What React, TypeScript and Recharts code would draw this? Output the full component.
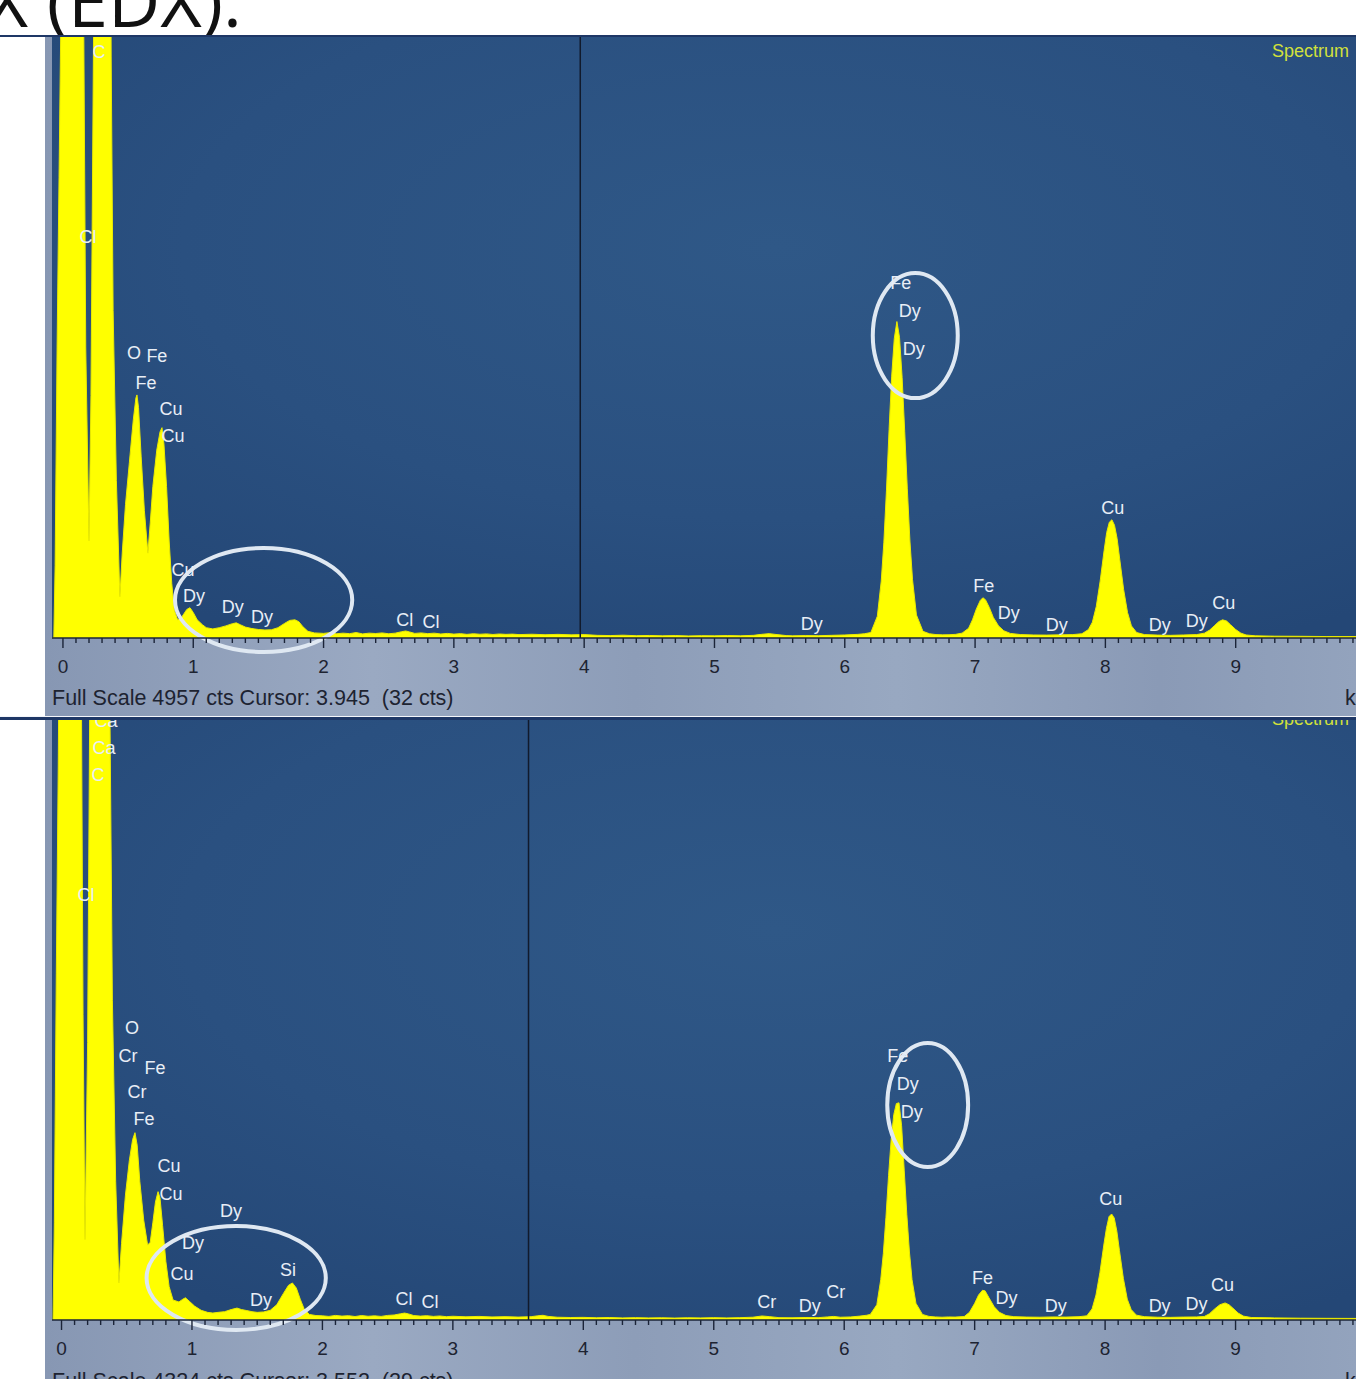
import React from 'react';
import {
  ComposedChart,
  Area,
  XAxis,
  YAxis,
  Scatter,
  ReferenceArea,
  ReferenceLine,
  CartesianGrid,
} from 'recharts';

// ---------- DATA ----------
// [energy keV, counts]
const topSpectrum: [number, number][] = [
  [-0.084, 0], [-0.07, 0], [-0.06, 600], [-0.045, 2400], [-0.03, 3800], [-0.015, 5200], [0.0, 9000],
  [0.15, 9000], [0.16, 5000], [0.175, 2400], [0.2, 800], [0.215, 2000], [0.235, 5000], [0.245, 9000],
  [0.355, 9000], [0.37, 4800], [0.385, 2700], [0.41, 1300], [0.437, 340], [0.455, 700], [0.48, 1100],
  [0.51, 1450], [0.54, 1800], [0.56, 1980], [0.568, 2005], [0.58, 1900], [0.6, 1500], [0.625, 1050],
  [0.652, 700], [0.67, 950], [0.69, 1250], [0.72, 1550], [0.745, 1700], [0.76, 1735], [0.775, 1600],
  [0.795, 1250], [0.815, 800], [0.835, 450], [0.855, 230], [0.88, 150], [0.91, 170], [0.95, 235],
  [0.975, 250], [1.0, 210], [1.03, 150], [1.07, 110], [1.1, 85], [1.15, 75], [1.2, 85], [1.25, 100],
  [1.3, 118], [1.33, 125], [1.36, 110], [1.4, 90], [1.45, 78], [1.5, 70], [1.55, 66], [1.6, 68],
  [1.65, 85], [1.7, 120], [1.74, 145], [1.78, 150], [1.81, 135], [1.84, 95], [1.88, 55], [1.93, 42],
  [2.0, 38], [2.05, 44], [2.1, 35], [2.15, 40], [2.2, 36], [2.25, 45], [2.3, 34], [2.35, 40], [2.4, 37],
  [2.45, 42], [2.5, 35], [2.55, 40], [2.6, 52], [2.63, 58], [2.66, 50], [2.7, 38], [2.75, 42], [2.8, 36],
  [2.85, 40], [2.9, 33], [2.95, 38], [3.0, 32], [3.05, 36], [3.1, 30], [3.15, 35], [3.2, 31], [3.25, 34],
  [3.3, 29], [3.35, 33], [3.4, 30], [3.45, 32], [3.5, 28], [3.6, 31], [3.7, 27], [3.8, 30], [3.9, 26],
  [4.0, 28], [4.1, 22], [4.2, 20], [4.3, 23], [4.4, 19], [4.5, 21], [4.6, 18], [4.7, 20], [4.8, 17],
  [4.9, 19], [5.0, 18], [5.1, 20], [5.2, 18], [5.3, 22], [5.36, 30], [5.42, 36], [5.48, 28], [5.55, 20],
  [5.6, 18], [5.7, 20], [5.8, 19], [5.9, 22], [6.0, 25], [6.1, 30], [6.15, 35], [6.2, 45],
  [6.25, 180], [6.28, 470], [6.3, 790], [6.32, 1220], [6.34, 1720], [6.36, 2160], [6.38, 2470],
  [6.4, 2610], [6.42, 2480], [6.44, 2150], [6.46, 1700], [6.48, 1230], [6.5, 800], [6.52, 480],
  [6.55, 190], [6.6, 55], [6.65, 35], [6.7, 28], [6.75, 26], [6.8, 27], [6.85, 30], [6.9, 40],
  [6.95, 80], [6.98, 150], [7.01, 240], [7.04, 310], [7.06, 332], [7.08, 315], [7.11, 250], [7.14, 170],
  [7.18, 100], [7.22, 60], [7.27, 38], [7.35, 28], [7.45, 25], [7.55, 24], [7.65, 26], [7.75, 28],
  [7.82, 35], [7.87, 70], [7.9, 130], [7.93, 260], [7.96, 470], [7.99, 720], [8.01, 870], [8.03, 955],
  [8.05, 975], [8.07, 930], [8.09, 820], [8.11, 650], [8.14, 400], [8.17, 210], [8.2, 100], [8.24, 45],
  [8.3, 28], [8.4, 24], [8.5, 22], [8.6, 25], [8.7, 28], [8.76, 40], [8.8, 65], [8.84, 105], [8.87, 135],
  [8.9, 150], [8.93, 140], [8.96, 110], [9.0, 70], [9.04, 40], [9.08, 25], [9.15, 18], [9.3, 15],
  [9.5, 14], [9.7, 12], [10.0, 12],
];

const bottomSpectrum: [number, number][] = [
  [-0.073, 0], [-0.065, 0], [-0.055, 700], [-0.04, 2500], [-0.025, 4000], [-0.01, 6000], [0.0, 9000],
  [0.14, 9000], [0.15, 5000], [0.165, 2200], [0.18, 580], [0.2, 2000], [0.22, 5000], [0.23, 9000],
  [0.355, 9000], [0.37, 4500], [0.39, 2300], [0.415, 1000], [0.44, 267], [0.46, 550], [0.49, 900],
  [0.52, 1150], [0.545, 1300], [0.563, 1350], [0.58, 1260], [0.6, 1000], [0.63, 720], [0.66, 540],
  [0.68, 560], [0.7, 700], [0.72, 850], [0.74, 925], [0.755, 880], [0.775, 680], [0.8, 420],
  [0.825, 240], [0.855, 144], [0.9, 130], [0.93, 150], [0.95, 160], [0.98, 135], [1.02, 100],
  [1.07, 70], [1.12, 55], [1.16, 50], [1.2, 55], [1.25, 60], [1.3, 75], [1.345, 86], [1.38, 75],
  [1.42, 68], [1.46, 60], [1.5, 55], [1.55, 58], [1.6, 70], [1.65, 110], [1.7, 190], [1.74, 250],
  [1.77, 267], [1.8, 230], [1.83, 150], [1.86, 80], [1.9, 40], [1.95, 32],
  [2.0, 30], [2.05, 26], [2.1, 33], [2.15, 28], [2.2, 31], [2.25, 25], [2.3, 32], [2.35, 27], [2.4, 30],
  [2.45, 26], [2.5, 33], [2.55, 36], [2.6, 45], [2.63, 50], [2.66, 44], [2.7, 32], [2.75, 28], [2.8, 31],
  [2.85, 26], [2.9, 29], [2.95, 24], [3.0, 27], [3.1, 23], [3.2, 26], [3.3, 22], [3.4, 24], [3.5, 21],
  [3.6, 24], [3.65, 30], [3.69, 34], [3.73, 26], [3.8, 20], [3.9, 18], [4.0, 19], [4.1, 16], [4.2, 18],
  [4.3, 15], [4.4, 17], [4.5, 15], [4.6, 16], [4.7, 14], [4.8, 16], [4.9, 15], [5.0, 17], [5.1, 15],
  [5.2, 17], [5.3, 20], [5.37, 29], [5.43, 24], [5.5, 17], [5.6, 16], [5.7, 18], [5.8, 17], [5.87, 22],
  [5.92, 26], [5.97, 20], [6.05, 22], [6.12, 28], [6.17, 34], [6.2, 40], [6.25, 110], [6.28, 290],
  [6.3, 480], [6.32, 740], [6.34, 1040], [6.36, 1300], [6.38, 1480], [6.4, 1560], [6.42, 1565],
  [6.44, 1400], [6.46, 1080], [6.48, 760], [6.5, 490], [6.52, 290], [6.55, 120], [6.6, 40], [6.65, 26],
  [6.7, 22], [6.75, 20], [6.8, 22], [6.85, 21], [6.92, 25], [6.96, 55], [7.0, 120], [7.03, 180],
  [7.06, 214], [7.08, 210], [7.11, 160], [7.15, 95], [7.19, 55], [7.24, 32], [7.3, 24], [7.4, 21],
  [7.5, 20], [7.6, 22], [7.7, 21], [7.8, 24], [7.86, 30], [7.9, 80], [7.93, 180], [7.96, 340],
  [7.99, 540], [8.01, 660], [8.03, 745], [8.05, 764], [8.07, 735], [8.09, 640], [8.11, 500], [8.14, 300],
  [8.17, 150], [8.2, 75], [8.24, 35], [8.3, 24], [8.4, 20], [8.5, 19], [8.6, 21], [8.7, 22], [8.76, 25],
  [8.8, 45], [8.84, 80], [8.88, 110], [8.92, 123], [8.95, 110], [8.98, 85], [9.02, 50], [9.06, 28],
  [9.12, 18], [9.3, 15], [9.5, 13], [9.7, 12], [10.0, 11],
];

// [energy keV, counts, element]
const topLabels: [number, number, string][] = [
  [0.276, 4833, 'C'], [0.192, 3307, 'Cl'], [0.545, 2351, 'O'], [0.721, 2326, 'Fe'],
  [0.637, 2103, 'Fe'], [0.829, 1889, 'Cu'], [0.844, 1666, 'Cu'], [0.921, 561, 'Cu'],
  [1.005, 346, 'Dy'], [1.304, 256, 'Dy'], [1.527, 173, 'Dy'], [2.624, 148, 'Cl'],
  [2.824, 132, 'Cl'], [5.747, 115, 'Dy'], [6.43, 2928, 'Fe'], [6.499, 2697, 'Dy'],
  [6.53, 2384, 'Dy'], [7.067, 429, 'Fe'], [7.259, 206, 'Dy'], [7.627, 107, 'Dy'],
  [8.057, 1072, 'Cu'], [8.417, 107, 'Dy'], [8.701, 140, 'Dy'], [8.908, 289, 'Cu'],
];

const bottomLabels: [number, number, string][] = [
  [0.341, 4317, 'Ca'], [0.326, 4122, 'Ca'], [0.28, 3928, 'C'], [0.188, 3063, 'Cl'],
  [0.54, 2104, 'O'], [0.51, 1903, 'Cr'], [0.716, 1816, 'Fe'], [0.579, 1643, 'Cr'],
  [0.632, 1449, 'Fe'], [0.824, 1110, 'Cu'], [0.839, 908, 'Cu'], [1.299, 786, 'Dy'],
  [1.008, 555, 'Dy'], [0.923, 332, 'Cu'], [1.736, 360, 'Si'], [1.529, 144, 'Dy'],
  [2.625, 151, 'Cl'], [2.824, 130, 'Cl'], [5.406, 130, 'Cr'], [5.736, 101, 'Dy'],
  [5.935, 202, 'Cr'], [6.41, 1903, 'Fe'], [6.487, 1701, 'Dy'], [6.518, 1499, 'Dy'],
  [7.061, 303, 'Fe'], [7.245, 159, 'Dy'], [7.621, 101, 'Dy'], [8.043, 872, 'Cu'],
  [8.418, 101, 'Dy'], [8.701, 115, 'Dy'], [8.9, 252, 'Cu'],
];

// highlight ellipses: [keV from, keV to, cts from, cts to]
const topHighlights: [number, number, number, number][] = [
  [0.86, 2.22, -115, 742],
  [6.215, 6.867, 1979, 3010],
];
const bottomHighlights: [number, number, number, number][] = [
  [0.652, 2.026, -72, 677],
  [6.33, 6.95, 1103, 1996],
];

const axisLabels = [0, 1, 2, 3, 4, 5, 6, 7, 8, 9, 10];

const topFullScale = 4957;
const bottomFullScale = 4324;
const topCursor = 3.97;
const bottomCursor = 3.58;
const topFooter = 'Full Scale 4957 cts Cursor: 3.945  (32 cts)';
const bottomFooter = 'Full Scale 4324 cts Cursor: 3.552  (29 cts)';

// ---------- RENDER ----------
const tickValues: number[] = [];
for (let i = 0; i <= 100; i++) tickValues.push(Math.round(i) / 10);

const SANS = '"Liberation Sans", Arial, sans-serif';

const AxisTick = (props: any) => {
  const { x, y, payload } = props;
  const v = payload.value as number;
  const major = axisLabels.includes(v);
  return (
    <g>
      <line x1={x} x2={x} y1={y} y2={y + (major ? 10 : 5)} stroke="#1b2438" strokeWidth={1.4} />
      {major && (
        <text x={x} y={y + 35} textAnchor="middle" fontSize={19} fontFamily={SANS} fill="#1d2331">
          {v}
        </text>
      )}
    </g>
  );
};

const LabelShape = (p: any) => (
  <text
    x={p.cx}
    y={p.cy}
    dominantBaseline="central"
    textAnchor="middle"
    fontSize={18}
    fontFamily={SANS}
    fill="#e8eef6"
  >
    {p.payload.text}
  </text>
);

const EllipseShape = (p: any) => {
  const w = Math.abs(p.width);
  const h = Math.abs(p.height);
  const x = Math.min(p.x, p.x + p.width);
  const y = Math.min(p.y, p.y + p.height);
  return (
    <ellipse
      cx={x + w / 2}
      cy={y + h / 2}
      rx={w / 2}
      ry={h / 2}
      fill="none"
      stroke="#dfe8f2"
      strokeWidth={4}
    />
  );
};

type PanelProps = {
  id: string;
  spectrum: [number, number][];
  labels: [number, number, string][];
  highlights: [number, number, number, number][];
  fullScale: number;
  cursor: number;
  xMin: number;
  axisHeight: number;
  footer: string;
  top: number;
  height: number;
  spectrumLabelTop: number;
};

const Panel = (p: PanelProps) => {
  const data = p.spectrum.map(([kev, cts]) => ({ kev, cts }));
  const labelData = p.labels.map(([kev, cts, text]) => ({ kev, cts, text }));
  return (
    <div
      style={{
        position: 'absolute',
        left: 45,
        top: p.top,
        width: 1311,
        height: p.height,
        overflow: 'hidden',
        background:
          'linear-gradient(90deg, #8797b3 0%, #9aa9c2 25%, #8d9db8 45%, #98a8c1 65%, #8a9ab6 85%, #93a3bd 100%)',
      }}
    >
      <ComposedChart
        width={1325}
        height={680}
        data={data}
        margin={{ top: 0, right: 4, bottom: 0, left: 7 }}
        style={{ position: 'absolute', left: 0, top: 0 }}
      >
        <defs>
          <radialGradient id={`bg-${p.id}`} cx="55%" cy="35%" r="75%">
            <stop offset="0%" stopColor="#2f5887" />
            <stop offset="60%" stopColor="#2a5080" />
            <stop offset="100%" stopColor="#244776" />
          </radialGradient>
        </defs>
        <CartesianGrid horizontal={false} vertical={false} fill={`url(#bg-${p.id})`} fillOpacity={1} />
        <XAxis
          type="number"
          dataKey="kev"
          domain={[p.xMin, 10]}
          allowDataOverflow
          ticks={tickValues}
          interval={0}
          tick={<AxisTick />}
          tickLine={false}
          tickSize={0}
          tickMargin={0}
          height={p.axisHeight}
          axisLine={{ stroke: '#1b2438', strokeWidth: 1.5 }}
        />
        <YAxis type="number" domain={[0, p.fullScale]} allowDataOverflow hide />
        <Area
          type="linear"
          dataKey="cts"
          stroke="#eaea00"
          strokeWidth={1}
          fill="#ffff00"
          fillOpacity={1}
          isAnimationActive={false}
          dot={false}
          activeDot={false}
        />
        <ReferenceLine x={p.cursor} stroke="#111a2c" strokeWidth={1.5} ifOverflow="visible" />
        <Scatter data={labelData} dataKey="cts" isAnimationActive={false} shape={<LabelShape />} />
        {p.highlights.map((h, i) => (
          <ReferenceArea
            key={i}
            x1={h[0]}
            x2={h[1]}
            y1={h[2]}
            y2={h[3]}
            ifOverflow="visible"
            shape={<EllipseShape />}
          />
        ))}
      </ComposedChart>
      <div
        style={{
          position: 'absolute',
          left: 1227,
          top: p.spectrumLabelTop,
          fontFamily: SANS,
          fontSize: 18,
          lineHeight: '22px',
          color: '#d2e03a',
          whiteSpace: 'nowrap',
        }}
      >
        Spectrum
      </div>
      <div
        style={{
          position: 'absolute',
          left: 7,
          top: 601 + 48,
          fontFamily: SANS,
          fontSize: 21.5,
          lineHeight: '24px',
          color: '#1d2331',
          whiteSpace: 'pre',
        }}
      >
        {p.footer}
      </div>
      <div
        style={{
          position: 'absolute',
          left: 1300,
          top: 601 + 48,
          fontFamily: SANS,
          fontSize: 21.5,
          lineHeight: '24px',
          color: '#1d2331',
          whiteSpace: 'nowrap',
        }}
      >
        keV
      </div>
    </div>
  );
};

export default function App() {
  return (
    <div
      style={{
        position: 'absolute',
        left: 0,
        top: 0,
        width: 1356,
        height: 1379,
        overflow: 'hidden',
        background: '#ffffff',
      }}
    >
      <div
        style={{
          position: 'absolute',
          right: 1356 - 242,
          top: -37,
          fontFamily: '"Open Sans", sans-serif',
          fontSize: 72,
          lineHeight: '72px',
          color: '#111111',
          whiteSpace: 'nowrap',
          textAlign: 'right',
        }}
      >
        X (EDX):
      </div>
      <div style={{ position: 'absolute', left: 0, top: 35, width: 1356, height: 2, background: '#1e3766' }} />
      <Panel
        id="top"
        spectrum={topSpectrum}
        labels={topLabels}
        highlights={topHighlights}
        fullScale={topFullScale}
        cursor={topCursor}
        xMin={-0.084}
        axisHeight={79}
        footer={topFooter}
        top={37}
        height={679}
        spectrumLabelTop={3}
      />
      <div style={{ position: 'absolute', left: 0, top: 716, width: 1356, height: 1, background: '#f4f6fa' }} />
      <div style={{ position: 'absolute', left: 0, top: 717, width: 1356, height: 3, background: '#1e3766' }} />
      <Panel
        id="bottom"
        spectrum={bottomSpectrum}
        labels={bottomLabels}
        highlights={bottomHighlights}
        fullScale={bottomFullScale}
        cursor={bottomCursor}
        xMin={-0.073}
        axisHeight={80}
        footer={bottomFooter}
        top={720}
        height={659}
        spectrumLabelTop={-12}
      />
    </div>
  );
}
